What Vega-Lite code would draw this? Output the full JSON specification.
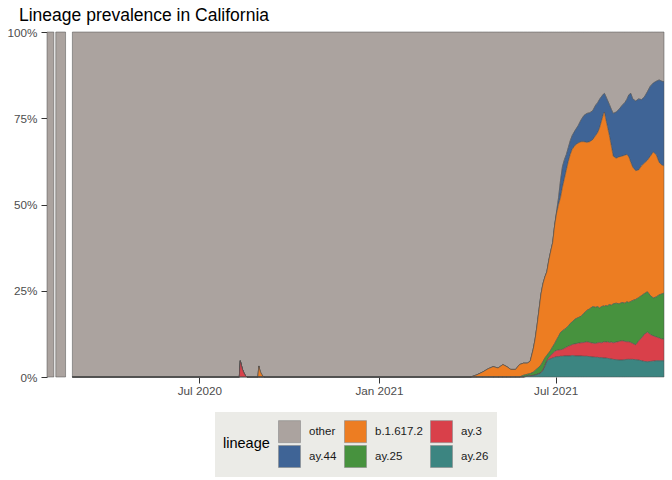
{
"$schema": "https://vega.github.io/schema/vega-lite/v6.json",
"width": 617, "height": 345,
"autosize": {"type": "none"},
"padding": {"left": 47, "top": 32, "right": 8, "bottom": 103},
"background": "white",
"title": {"text": "Lineage prevalence in California", "anchor": "start", "frame": "group", "dx": -28, "offset": 3, "fontSize": 17.5, "font": "Liberation Sans", "fontWeight": "normal", "color": "black"},
"config": {"view": {"stroke": null}, "font": "Liberation Sans", "axis": {"labelFont": "Liberation Sans"}, "legend": {"labelFont": "Liberation Sans", "titleFont": "Liberation Sans"}},
"datasets": {
"early": [
{"date": "2020-01-27", "seg": "a", "value": 1},
{"date": "2020-02-03", "seg": "a", "value": 1},
{"date": "2020-02-05", "seg": "b", "value": 1},
{"date": "2020-02-15", "seg": "b", "value": 1}
],
"main": [
{"date":"2020-02-22","ay26":0,"ay3":0,"ay25":0,"b16172":0,"ay44":0,"other":1},
{"date":"2020-08-11","ay26":0,"ay3":0,"ay25":0,"b16172":0,"ay44":0,"other":1},
{"date":"2020-08-12","ay26":0,"ay3":0.047,"ay25":0,"b16172":0,"ay44":0,"other":0.953},
{"date":"2020-08-13","ay26":0,"ay3":0.035,"ay25":0,"b16172":0,"ay44":0,"other":0.965},
{"date":"2020-08-14","ay26":0,"ay3":0.024,"ay25":0,"b16172":0,"ay44":0,"other":0.976},
{"date":"2020-08-15","ay26":0,"ay3":0.016,"ay25":0,"b16172":0,"ay44":0,"other":0.984},
{"date":"2020-08-16","ay26":0,"ay3":0.010,"ay25":0,"b16172":0,"ay44":0,"other":0.990},
{"date":"2020-08-17","ay26":0,"ay3":0.005,"ay25":0,"b16172":0,"ay44":0,"other":0.995},
{"date":"2020-08-18","ay26":0,"ay3":0.002,"ay25":0,"b16172":0,"ay44":0,"other":0.998},
{"date":"2020-08-19","ay26":0,"ay3":0,"ay25":0,"b16172":0,"ay44":0,"other":1},
{"date":"2020-08-30","ay26":0,"ay3":0,"ay25":0,"b16172":0,"ay44":0,"other":1},
{"date":"2020-08-31","ay26":0,"ay3":0,"ay25":0,"b16172":0.032,"ay44":0,"other":0.968},
{"date":"2020-09-01","ay26":0,"ay3":0,"ay25":0,"b16172":0.020,"ay44":0,"other":0.980},
{"date":"2020-09-02","ay26":0,"ay3":0,"ay25":0,"b16172":0.012,"ay44":0,"other":0.988},
{"date":"2020-09-03","ay26":0,"ay3":0,"ay25":0,"b16172":0.007,"ay44":0,"other":0.993},
{"date":"2020-09-04","ay26":0,"ay3":0,"ay25":0,"b16172":0.003,"ay44":0,"other":0.997},
{"date":"2020-09-05","ay26":0,"ay3":0,"ay25":0,"b16172":0.001,"ay44":0,"other":0.999},
{"date":"2020-09-06","ay26":0,"ay3":0,"ay25":0,"b16172":0,"ay44":0,"other":1},
{"date":"2021-04-05","ay26":0,"ay3":0,"ay25":0,"b16172":0,"ay44":0,"other":1},
{"date":"2021-04-11","ay26":0,"ay3":0,"ay25":0,"b16172":0.006,"ay44":0,"other":0.994},
{"date":"2021-04-17","ay26":0,"ay3":0,"ay25":0,"b16172":0.014,"ay44":0,"other":0.986},
{"date":"2021-04-23","ay26":0,"ay3":0,"ay25":0,"b16172":0.024,"ay44":0,"other":0.976},
{"date":"2021-04-28","ay26":0,"ay3":0,"ay25":0,"b16172":0.030,"ay44":0,"other":0.970},
{"date":"2021-05-03","ay26":0,"ay3":0,"ay25":0,"b16172":0.026,"ay44":0,"other":0.974},
{"date":"2021-05-08","ay26":0,"ay3":0,"ay25":0,"b16172":0.036,"ay44":0,"other":0.964},
{"date":"2021-05-12","ay26":0,"ay3":0,"ay25":0,"b16172":0.030,"ay44":0,"other":0.970},
{"date":"2021-05-16","ay26":0,"ay3":0,"ay25":0,"b16172":0.022,"ay44":0,"other":0.978},
{"date":"2021-05-21","ay26":0,"ay3":0,"ay25":0,"b16172":0.022,"ay44":0,"other":0.978},
{"date":"2021-05-25","ay26":0,"ay3":0,"ay25":0,"b16172":0.036,"ay44":0,"other":0.964},
{"date":"2021-05-29","ay26":0,"ay3":0,"ay25":0.005,"b16172":0.035,"ay44":0,"other":0.960},
{"date":"2021-06-02","ay26":0.002,"ay3":0.001,"ay25":0.005,"b16172":0.032,"ay44":0,"other":0.960},
{"date":"2021-06-05","ay26":0.003,"ay3":0.001,"ay25":0.006,"b16172":0.036,"ay44":0,"other":0.954},
{"date":"2021-06-08","ay26":0.004,"ay3":0.001,"ay25":0.009,"b16172":0.066,"ay44":0,"other":0.920},
{"date":"2021-06-10","ay26":0.005,"ay3":0.001,"ay25":0.013,"b16172":0.091,"ay44":0,"other":0.890},
{"date":"2021-06-12","ay26":0.007,"ay3":0.001,"ay25":0.016,"b16172":0.126,"ay44":0,"other":0.850},
{"date":"2021-06-14","ay26":0.009,"ay3":0.001,"ay25":0.019,"b16172":0.166,"ay44":0,"other":0.805},
{"date":"2021-06-16","ay26":0.012,"ay3":0.001,"ay25":0.022,"b16172":0.205,"ay44":0,"other":0.760},
{"date":"2021-06-18","ay26":0.018,"ay3":0.003,"ay25":0.024,"b16172":0.225,"ay44":0,"other":0.730},
{"date":"2021-06-20","ay26":0.030,"ay3":0.004,"ay25":0.021,"b16172":0.235,"ay44":0,"other":0.710},
{"date":"2021-06-22","ay26":0.045,"ay3":0.003,"ay25":0.015,"b16172":0.242,"ay44":0,"other":0.695},
{"date":"2021-06-24","ay26":0.050,"ay3":0.006,"ay25":0.014,"b16172":0.268,"ay44":0,"other":0.662},
{"date":"2021-06-26","ay26":0.053,"ay3":0.010,"ay25":0.015,"b16172":0.287,"ay44":0,"other":0.635},
{"date":"2021-06-28","ay26":0.055,"ay3":0.013,"ay25":0.020,"b16172":0.302,"ay44":0,"other":0.610},
{"date":"2021-06-30","ay26":0.057,"ay3":0.017,"ay25":0.023,"b16172":0.343,"ay44":0,"other":0.560},
{"date":"2021-07-02","ay26":0.059,"ay3":0.018,"ay25":0.031,"b16172":0.367,"ay44":0.005,"other":0.520},
{"date":"2021-07-04","ay26":0.059,"ay3":0.019,"ay25":0.040,"b16172":0.382,"ay44":0.020,"other":0.480},
{"date":"2021-07-06","ay26":0.060,"ay3":0.019,"ay25":0.050,"b16172":0.391,"ay44":0.050,"other":0.430},
{"date":"2021-07-08","ay26":0.060,"ay3":0.020,"ay25":0.054,"b16172":0.416,"ay44":0.060,"other":0.390},
{"date":"2021-07-10","ay26":0.061,"ay3":0.022,"ay25":0.055,"b16172":0.437,"ay44":0.055,"other":0.370},
{"date":"2021-07-12","ay26":0.061,"ay3":0.025,"ay25":0.056,"b16172":0.458,"ay44":0.045,"other":0.355},
{"date":"2021-07-14","ay26":0.061,"ay3":0.028,"ay25":0.059,"b16172":0.477,"ay44":0.040,"other":0.335},
{"date":"2021-07-16","ay26":0.061,"ay3":0.030,"ay25":0.064,"b16172":0.490,"ay44":0.040,"other":0.315},
{"date":"2021-07-18","ay26":0.062,"ay3":0.032,"ay25":0.066,"b16172":0.500,"ay44":0.040,"other":0.300},
{"date":"2021-07-21","ay26":0.061,"ay3":0.035,"ay25":0.072,"b16172":0.504,"ay44":0.043,"other":0.285},
{"date":"2021-07-24","ay26":0.061,"ay3":0.037,"ay25":0.074,"b16172":0.506,"ay44":0.050,"other":0.272},
{"date":"2021-07-27","ay26":0.061,"ay3":0.038,"ay25":0.077,"b16172":0.506,"ay44":0.063,"other":0.255},
{"date":"2021-07-30","ay26":0.060,"ay3":0.040,"ay25":0.085,"b16172":0.497,"ay44":0.076,"other":0.242},
{"date":"2021-08-02","ay26":0.060,"ay3":0.042,"ay25":0.091,"b16172":0.487,"ay44":0.084,"other":0.236},
{"date":"2021-08-05","ay26":0.059,"ay3":0.041,"ay25":0.098,"b16172":0.484,"ay44":0.084,"other":0.234},
{"date":"2021-08-08","ay26":0.058,"ay3":0.040,"ay25":0.106,"b16172":0.484,"ay44":0.084,"other":0.228},
{"date":"2021-08-11","ay26":0.057,"ay3":0.040,"ay25":0.105,"b16172":0.498,"ay44":0.088,"other":0.212},
{"date":"2021-08-13","ay26":0.057,"ay3":0.042,"ay25":0.105,"b16172":0.504,"ay44":0.087,"other":0.205},
{"date":"2021-08-15","ay26":0.056,"ay3":0.044,"ay25":0.100,"b16172":0.522,"ay44":0.083,"other":0.195},
{"date":"2021-08-17","ay26":0.056,"ay3":0.043,"ay25":0.105,"b16172":0.538,"ay44":0.071,"other":0.187},
{"date":"2021-08-19","ay26":0.055,"ay3":0.046,"ay25":0.105,"b16172":0.556,"ay44":0.058,"other":0.180},
{"date":"2021-08-20","ay26":0.055,"ay3":0.047,"ay25":0.103,"b16172":0.563,"ay44":0.054,"other":0.178},
{"date":"2021-08-21","ay26":0.055,"ay3":0.046,"ay25":0.106,"b16172":0.545,"ay44":0.064,"other":0.184},
{"date":"2021-08-23","ay26":0.054,"ay3":0.048,"ay25":0.104,"b16172":0.520,"ay44":0.077,"other":0.197},
{"date":"2021-08-25","ay26":0.053,"ay3":0.047,"ay25":0.110,"b16172":0.490,"ay44":0.090,"other":0.210},
{"date":"2021-08-27","ay26":0.052,"ay3":0.049,"ay25":0.107,"b16172":0.462,"ay44":0.106,"other":0.224},
{"date":"2021-08-29","ay26":0.051,"ay3":0.048,"ay25":0.113,"b16172":0.428,"ay44":0.124,"other":0.236},
{"date":"2021-09-01","ay26":0.050,"ay3":0.051,"ay25":0.113,"b16172":0.420,"ay44":0.134,"other":0.232},
{"date":"2021-09-04","ay26":0.049,"ay3":0.054,"ay25":0.109,"b16172":0.426,"ay44":0.138,"other":0.224},
{"date":"2021-09-07","ay26":0.049,"ay3":0.056,"ay25":0.111,"b16172":0.424,"ay44":0.147,"other":0.213},
{"date":"2021-09-10","ay26":0.050,"ay3":0.053,"ay25":0.111,"b16172":0.429,"ay44":0.153,"other":0.204},
{"date":"2021-09-12","ay26":0.051,"ay3":0.051,"ay25":0.116,"b16172":0.427,"ay44":0.160,"other":0.195},
{"date":"2021-09-14","ay26":0.051,"ay3":0.051,"ay25":0.114,"b16172":0.422,"ay44":0.180,"other":0.182},
{"date":"2021-09-16","ay26":0.051,"ay3":0.049,"ay25":0.119,"b16172":0.403,"ay44":0.200,"other":0.178},
{"date":"2021-09-18","ay26":0.051,"ay3":0.046,"ay25":0.125,"b16172":0.386,"ay44":0.198,"other":0.194},
{"date":"2021-09-21","ay26":0.050,"ay3":0.043,"ay25":0.132,"b16172":0.373,"ay44":0.202,"other":0.200},
{"date":"2021-09-24","ay26":0.049,"ay3":0.055,"ay25":0.126,"b16172":0.370,"ay44":0.206,"other":0.194},
{"date":"2021-09-27","ay26":0.047,"ay3":0.066,"ay25":0.123,"b16172":0.376,"ay44":0.192,"other":0.196},
{"date":"2021-09-30","ay26":0.045,"ay3":0.079,"ay25":0.118,"b16172":0.378,"ay44":0.192,"other":0.188},
{"date":"2021-10-03","ay26":0.044,"ay3":0.086,"ay25":0.117,"b16172":0.381,"ay44":0.199,"other":0.173},
{"date":"2021-10-06","ay26":0.045,"ay3":0.078,"ay25":0.113,"b16172":0.404,"ay44":0.203,"other":0.157},
{"date":"2021-10-09","ay26":0.046,"ay3":0.073,"ay25":0.110,"b16172":0.423,"ay44":0.200,"other":0.148},
{"date":"2021-10-12","ay26":0.047,"ay3":0.069,"ay25":0.116,"b16172":0.412,"ay44":0.213,"other":0.143},
{"date":"2021-10-15","ay26":0.047,"ay3":0.066,"ay25":0.125,"b16172":0.384,"ay44":0.239,"other":0.139},
{"date":"2021-10-18","ay26":0.047,"ay3":0.063,"ay25":0.131,"b16172":0.373,"ay44":0.243,"other":0.143},
{"date":"2021-10-20","ay26":0.047,"ay3":0.062,"ay25":0.134,"b16172":0.369,"ay44":0.244,"other":0.144}
]
},
"layer": [
{
"data": {"name": "early"},
"mark": {"type": "area", "fill": "#ABA39F", "stroke": "#4d4d4d", "strokeWidth": 0.5},
"encoding": {
"x": {"field": "date", "type": "temporal", "title": null,
"scale": {"type": "utc", "domain": [1580083200000, 1634688000000], "nice": false},
"axis": {"values": [1593561600000, 1609459200000, 1625097600000], "format": "%b %Y", "domain": false, "grid": false, "tickColor": "#333333", "tickSize": 6, "labelPadding": 2, "labelColor": "#4d4d4d", "labelFontSize": 11.7}},
"y": {"field": "value", "type": "quantitative", "stack": null, "title": null,
"scale": {"domain": [0, 1], "nice": false},
"axis": {"values": [0, 0.25, 0.5, 0.75, 1], "format": ".0%", "domain": false, "grid": false, "tickColor": "#333333", "tickSize": 6, "labelPadding": 4, "labelColor": "#4d4d4d", "labelFontSize": 11.7}},
"detail": {"field": "seg"}
}
},
{
"data": {"name": "main"},
"transform": [
{"fold": ["other", "ay44", "b16172", "ay25", "ay3", "ay26"], "as": ["key", "value"]},
{"lookup": "key", "from": {"data": {"values": [
{"key": "other", "lineage": "other", "rank": 6},
{"key": "ay44", "lineage": "ay.44", "rank": 5},
{"key": "b16172", "lineage": "b.1.617.2", "rank": 4},
{"key": "ay25", "lineage": "ay.25", "rank": 3},
{"key": "ay3", "lineage": "ay.3", "rank": 2},
{"key": "ay26", "lineage": "ay.26", "rank": 1}
]}, "key": "key", "fields": ["lineage", "rank"]}}
],
"mark": {"type": "area", "stroke": "#4d4d4d", "strokeWidth": 0.5, "opacity": 1},
"encoding": {
"x": {"field": "date", "type": "temporal", "title": null},
"y": {"field": "value", "type": "quantitative", "stack": "zero", "title": null},
"order": {"field": "rank", "type": "quantitative", "sort": "ascending"},
"color": {"field": "lineage", "type": "nominal",
"scale": {"domain": ["other", "b.1.617.2", "ay.3", "ay.44", "ay.25", "ay.26"], "range": ["#ABA39F", "#ED7D22", "#D9404A", "#3F6496", "#47923E", "#3C8581"]},
"legend": {"orient": "none", "legendX": 168, "legendY": 380, "direction": "horizontal", "columns": 3, "title": "lineage", "titleOrient": "left", "titleAnchor": "middle", "titleBaseline": "middle", "titleFontSize": 14.5, "titleFontWeight": "normal", "titleColor": "black", "titlePadding": 8, "labelFontSize": 11.5, "labelColor": "#1a1a1a", "symbolType": "square", "symbolSize": 484, "symbolStrokeColor": "#8a8a8a", "symbolStrokeWidth": 0.6, "symbolOpacity": 1, "rowPadding": 0, "columnPadding": 6, "labelOffset": 8, "padding": 8, "fillColor": "#EBEBE7"}
}
}
}
]
}
